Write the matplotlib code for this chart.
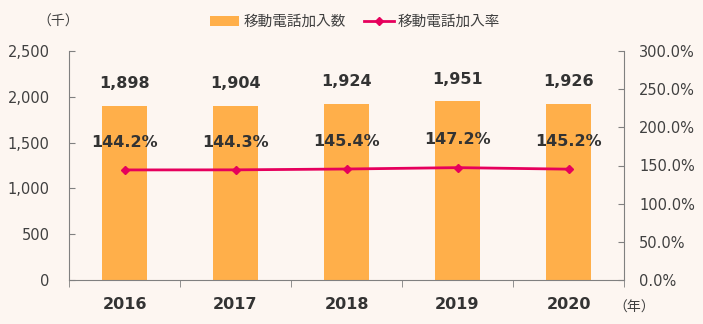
import matplotlib as mpl
mpl.use('Agg')
import matplotlib.pyplot as plt
import numpy as np

years = ['2016', '2017', '2018', '2019', '2020']
subscribers = [1898, 1904, 1924, 1951, 1926]
rate = [144.2, 144.3, 145.4, 147.2, 145.2]

bg = '#FDF6F1'
bar_color = '#FFAF4A'
line_color = '#E6005C'
text_color = '#404040'
axis_color = '#808080'

plt.rcParams['font.family'] = ['DejaVu Sans', 'Noto Sans CJK JP']

fig = plt.figure(figsize=(7.03, 3.24), dpi=100, facecolor=bg)
ax = fig.add_axes([69 / 703, 1 - 280 / 324, 555 / 703, 229 / 324])
ax.set_facecolor(bg)
x = np.arange(len(years))
bars = ax.bar(x, subscribers, width=0.4, color=bar_color, zorder=2,
              label='移動電話加入数')
ax.set_xlim(-0.5, len(years) - 0.5)
ax.set_ylim(0, 2500)
ax.set_yticks(range(0, 2501, 500))
ax.set_yticklabels([f'{v:,}' for v in range(0, 2501, 500)])
ax.tick_params(axis='y', direction='in', length=4, pad=14, colors=axis_color,
               labelcolor=text_color, labelsize=10.5)
ax.set_xticks(x)
ax.set_xticklabels(years, fontweight='bold', fontsize=11.5, color='#333333')
ax.set_xticks(np.arange(-0.5, len(years)), minor=True)
ax.tick_params(axis='x', which='major', length=0, pad=12)
ax.tick_params(axis='x', which='minor', length=5, color=axis_color)
for s in ['top', 'right']:
    ax.spines[s].set_visible(False)
for s in ['left', 'bottom']:
    ax.spines[s].set_color(axis_color)

for xi, v in zip(x, subscribers):
    ax.annotate(f'{v:,}', (xi, v), xytext=(0, 16), textcoords='offset points',
                ha='center', va='center', fontsize=11.5, fontweight='bold',
                color='#333333')

ax2 = ax.twinx()
ax2.set_ylim(0, 300)
ax2.set_yticks(range(0, 301, 50))
ax2.set_yticklabels([f'{v:.1f}%' for v in range(0, 301, 50)])
ax2.tick_params(axis='y', direction='in', length=4, pad=11, colors=axis_color,
                labelcolor=text_color, labelsize=10.5)
for s in ['top', 'left', 'bottom']:
    ax2.spines[s].set_visible(False)
ax2.spines['right'].set_color(axis_color)
ln, = ax2.plot(x, rate, color=line_color, lw=2, marker='D', markersize=4,
               zorder=3, label='移動電話加入率')
for xi, v in zip(x, rate):
    ax2.annotate(f'{v:.1f}%', (xi, v), xytext=(0, 20), textcoords='offset points',
                 ha='center', va='center', fontsize=11.5, fontweight='bold',
                 color='#333333')

fig.legend([bars, ln], ['移動電話加入数', '移動電話加入率'], loc='center',
           bbox_to_anchor=(355 / 703, 1 - 22 / 324), ncol=2, frameon=False,
           handlelength=2.0, columnspacing=1.3, handletextpad=0.3,
           prop={'family': ['Noto Sans CJK JP'], 'size': 10.5})
for t in fig.legends[0].get_texts():
    t.set_color(text_color)

fig.text(58 / 703, 1 - 22 / 324, '（千）', ha='center', va='center',
         fontsize=10, color=text_color, family=['Noto Sans CJK JP'])
fig.text(634 / 703, 1 - 308 / 324, '（年）', ha='center', va='center',
         fontsize=10, color=text_color, family=['Noto Sans CJK JP'])

fig.savefig('out.png', dpi=100, facecolor=bg)
